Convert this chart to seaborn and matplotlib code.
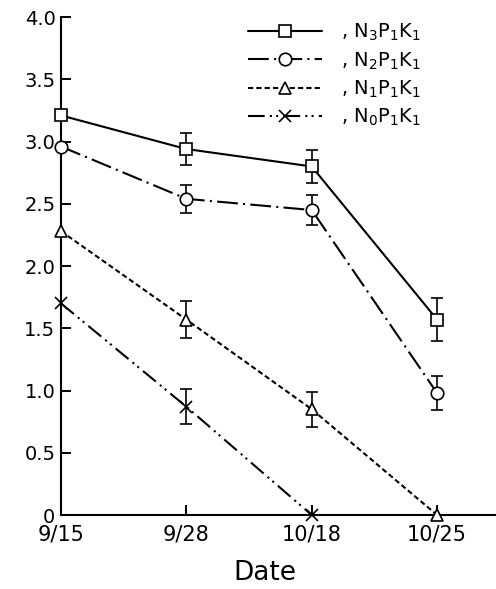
import seaborn as sns
import matplotlib.pyplot as plt
import numpy as np
import pandas as pd

# Datos
fechas = ["9/15", "9/28", "10/18", "10/25"]
n3p1k1 = [3.21, 2.94, 2.80, 1.57]
n2p1k1 = [2.96, 2.54, 2.45, 0.98]
n1p1k1 = [2.28, 1.57, 0.85, 0.0]
n0p1k1 = [1.70, 0.87, 0.0]
err_n3 = [0, 0.13, 0.13, 0.17]
err_n2 = [0, 0.11, 0.12, 0.14]
err_n1 = [0, 0.15, 0.14, 0]
err_n0 = [0, 0.14, 0]

series = {
    ", N$_3$P$_1$K$_1$": (n3p1k1, err_n3),
    ", N$_2$P$_1$K$_1$": (n2p1k1, err_n2),
    ", N$_1$P$_1$K$_1$": (n1p1k1, err_n1),
    ", N$_0$P$_1$K$_1$": (n0p1k1, err_n0),
}
estilos = ["-", (0, (10, 2.5, 1, 2.5)), (0, (2.5, 1.5)), (0, (8, 2.5, 1, 2, 1, 2.5))]
marcadores = ["s", "o", "^", "x"]

sns.set_style("ticks")
plt.rcParams['font.family'] = ['DejaVu Sans']
plt.rcParams['text.color'] = 'black'

fig = plt.figure(figsize=(4.96, 5.89), dpi=100)
ax = fig.add_axes([0.123, 0.1256, 0.877, 0.8454])

for (nombre, (vals, errs)), ls, mk in zip(series.items(), estilos, marcadores):
    x = np.arange(len(vals))
    sns.lineplot(x=x, y=vals, ax=ax, color="black", lw=1.5, linestyle=ls,
                 marker=mk, markersize=9 if mk != "x" else 8,
                 markerfacecolor="white", markeredgecolor="black",
                 markeredgewidth=1.2, label=nombre, clip_on=False, zorder=3)
    errs = np.array(errs)
    m = errs > 0
    ax.errorbar(x[m], np.array(vals)[m], yerr=errs[m], fmt="none", ecolor="black",
                elinewidth=1.2, capsize=4, capthick=1.2, zorder=2)

ax.set_xlim(0, 3.47)
ax.set_ylim(0, 4.0)
ax.set_xticks(range(4))
ax.set_xticklabels(fechas)
yt = np.arange(0, 4.01, 0.5)
ax.set_yticks(yt)
ax.set_yticklabels(["0"] + [f"{v:.1f}" for v in yt[1:]])
ax.tick_params(direction="in", length=7, width=1.4, colors="black")
ax.tick_params(axis="y", labelsize=14, pad=4)
ax.tick_params(axis="x", labelsize=15, pad=7)
for s in ["top", "right"]:
    ax.spines[s].set_visible(False)
for s in ["left", "bottom"]:
    ax.spines[s].set_linewidth(1.5)
    ax.spines[s].set_color("black")

ax.set_xlabel("Date", fontsize=19, color="black")
ax.xaxis.set_label_coords(0.469, -0.09)
ax.set_ylabel("")

leg = ax.legend(loc="upper right", frameon=False, fontsize=14, handlelength=3.8,
                handletextpad=1.0, labelspacing=0.35, bbox_to_anchor=(0.868, 1.025))
for t in leg.get_texts():
    t.set_color("black")

plt.savefig("out.png", dpi=100)
